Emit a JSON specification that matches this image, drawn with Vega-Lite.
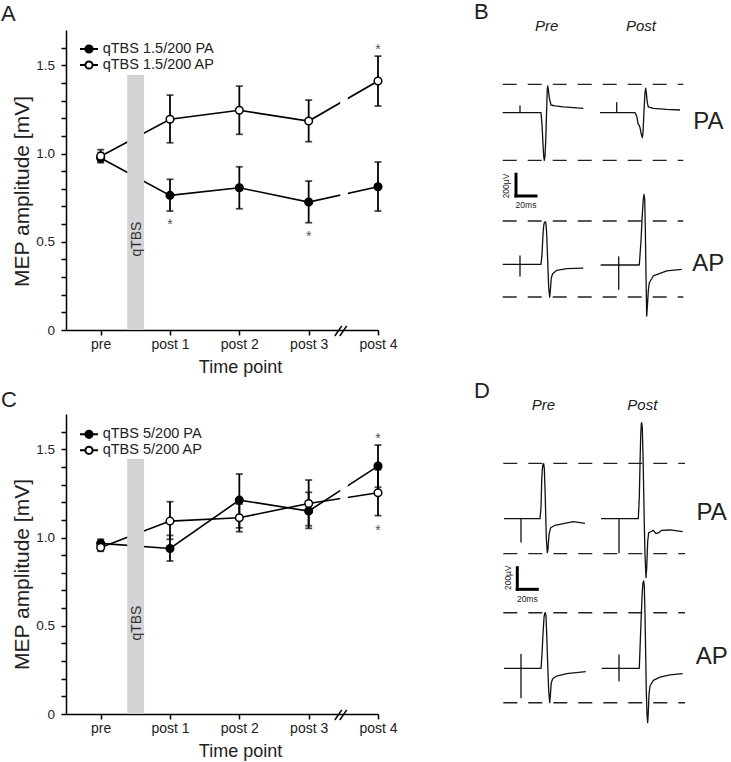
{
  "$schema": "https://vega.github.io/schema/vega-lite/v6.json",
  "background": "white",
  "padding": {"left": 1, "top": 1, "right": 0, "bottom": 0},
  "columns": 2,
  "spacing": {"row": 84, "column": 62},
  "bounds": "flush",
  "resolve": {"scale": {"fill": "independent"}, "legend": {"fill": "independent"}},
  "config": {
    "font": "Liberation Sans",
    "view": {"stroke": null},
    "axis": {"domainColor": "black", "domainWidth": 1.5, "tickColor": "black", "tickWidth": 1.5, "labelColor": "#222", "titleColor": "#222", "grid": false, "titleFontWeight": "normal", "labelFlush": false, "labelOverlap": false},
    "title": {"fontSize": 22, "fontWeight": "normal", "color": "#222", "anchor": "start", "frame": "group", "baseline": "alphabetic"}
  },
  "datasets": {
    "mep": [
      {"panel": "A", "series": "qTBS 1.5/200 PA", "tp": 0, "mean": 0.975, "lo": 0.948, "hi": 1.005},
      {"panel": "A", "series": "qTBS 1.5/200 PA", "tp": 1, "mean": 0.763, "lo": 0.674, "hi": 0.854},
      {"panel": "A", "series": "qTBS 1.5/200 PA", "tp": 2, "mean": 0.806, "lo": 0.687, "hi": 0.925},
      {"panel": "A", "series": "qTBS 1.5/200 PA", "tp": 3, "mean": 0.725, "lo": 0.608, "hi": 0.844},
      {"panel": "A", "series": "qTBS 1.5/200 PA", "tp": 4, "mean": 0.812, "lo": 0.674, "hi": 0.952},
      {"panel": "A", "series": "qTBS 1.5/200 AP", "tp": 0, "mean": 0.985, "lo": 0.955, "hi": 1.022},
      {"panel": "A", "series": "qTBS 1.5/200 AP", "tp": 1, "mean": 1.194, "lo": 1.061, "hi": 1.331},
      {"panel": "A", "series": "qTBS 1.5/200 AP", "tp": 2, "mean": 1.245, "lo": 1.109, "hi": 1.382},
      {"panel": "A", "series": "qTBS 1.5/200 AP", "tp": 3, "mean": 1.184, "lo": 1.067, "hi": 1.303},
      {"panel": "A", "series": "qTBS 1.5/200 AP", "tp": 4, "mean": 1.411, "lo": 1.269, "hi": 1.552},
      {"panel": "C", "series": "qTBS 5/200 PA", "tp": 0, "mean": 0.967, "lo": 0.945, "hi": 0.99},
      {"panel": "C", "series": "qTBS 5/200 PA", "tp": 1, "mean": 0.938, "lo": 0.867, "hi": 1.012},
      {"panel": "C", "series": "qTBS 5/200 PA", "tp": 2, "mean": 1.212, "lo": 1.055, "hi": 1.36},
      {"panel": "C", "series": "qTBS 5/200 PA", "tp": 3, "mean": 1.15, "lo": 1.052, "hi": 1.256},
      {"panel": "C", "series": "qTBS 5/200 PA", "tp": 4, "mean": 1.405, "lo": 1.285, "hi": 1.524},
      {"panel": "C", "series": "qTBS 5/200 AP", "tp": 0, "mean": 0.944, "lo": 0.922, "hi": 0.968},
      {"panel": "C", "series": "qTBS 5/200 AP", "tp": 1, "mean": 1.093, "lo": 0.99, "hi": 1.203},
      {"panel": "C", "series": "qTBS 5/200 AP", "tp": 2, "mean": 1.112, "lo": 1.033, "hi": 1.19},
      {"panel": "C", "series": "qTBS 5/200 AP", "tp": 3, "mean": 1.193, "lo": 1.067, "hi": 1.326},
      {"panel": "C", "series": "qTBS 5/200 AP", "tp": 4, "mean": 1.254, "lo": 1.124, "hi": 1.384}
    ],
    "stars": [
      {"panel": "A", "tp": 1, "level": 0.618},
      {"panel": "A", "tp": 3, "level": 0.551},
      {"panel": "A", "tp": 4, "level": 1.609},
      {"panel": "C", "tp": 4, "level": 1.581},
      {"panel": "C", "tp": 4, "level": 1.061}
    ],
    "stim": [{"label": "qTBS", "start": 0.382, "end": 0.626, "base": 0, "top": 1.445, "mid": 0.53, "labelAt": 0.515}],
    "gap": [{"from": 3.456, "to": 3.564, "bottom": 0.06, "top": 1.69}],
    "breaks": [
      {"x0": 3.377, "x1": 3.477, "y0": -0.034, "y1": 0.023},
      {"x0": 3.449, "x1": 3.549, "y0": -0.034, "y1": 0.023}
    ],
    "traces": [
      {"panel": "B", "trace": "pre-PA", "i": 0, "t": 62.7, "v": 2000},
      {"panel": "B", "trace": "pre-PA", "i": 1, "t": 80, "v": 2000},
      {"panel": "B", "trace": "pre-PA", "i": 2, "t": 80, "v": 2061},
      {"panel": "B", "trace": "pre-PA", "i": 3, "t": 80, "v": 2000},
      {"panel": "B", "trace": "pre-PA", "i": 4, "t": 101, "v": 2000},
      {"panel": "B", "trace": "pre-PA", "i": 5, "t": 102, "v": 1892},
      {"panel": "B", "trace": "pre-PA", "i": 6, "t": 103, "v": 1708},
      {"panel": "B", "trace": "pre-PA", "i": 7, "t": 103.7, "v": 1601},
      {"panel": "B", "trace": "pre-PA", "i": 8, "t": 104.3, "v": 1561},
      {"panel": "B", "trace": "pre-PA", "i": 9, "t": 105, "v": 1601},
      {"panel": "B", "trace": "pre-PA", "i": 10, "t": 105.7, "v": 1739},
      {"panel": "B", "trace": "pre-PA", "i": 11, "t": 106.7, "v": 2046},
      {"panel": "B", "trace": "pre-PA", "i": 12, "t": 107.3, "v": 2214},
      {"panel": "B", "trace": "pre-PA", "i": 13, "t": 107.7, "v": 2245},
      {"panel": "B", "trace": "pre-PA", "i": 14, "t": 108.3, "v": 2214},
      {"panel": "B", "trace": "pre-PA", "i": 15, "t": 109.3, "v": 2138},
      {"panel": "B", "trace": "pre-PA", "i": 16, "t": 111, "v": 2070},
      {"panel": "B", "trace": "pre-PA", "i": 17, "t": 115, "v": 2061},
      {"panel": "B", "trace": "pre-PA", "i": 18, "t": 123.3, "v": 2052},
      {"panel": "B", "trace": "pre-PA", "i": 19, "t": 133.3, "v": 2046},
      {"panel": "B", "trace": "pre-PA", "i": 20, "t": 143.3, "v": 2039},
      {"panel": "B", "trace": "post-PA", "i": 0, "t": 160, "v": 2000},
      {"panel": "B", "trace": "post-PA", "i": 1, "t": 176.7, "v": 2000},
      {"panel": "B", "trace": "post-PA", "i": 2, "t": 176.7, "v": 2092},
      {"panel": "B", "trace": "post-PA", "i": 3, "t": 176.7, "v": 2000},
      {"panel": "B", "trace": "post-PA", "i": 4, "t": 195, "v": 2000},
      {"panel": "B", "trace": "post-PA", "i": 5, "t": 196.7, "v": 1969},
      {"panel": "B", "trace": "post-PA", "i": 6, "t": 198, "v": 1898},
      {"panel": "B", "trace": "post-PA", "i": 7, "t": 199, "v": 1886},
      {"panel": "B", "trace": "post-PA", "i": 8, "t": 200, "v": 1862},
      {"panel": "B", "trace": "post-PA", "i": 9, "t": 201.3, "v": 1800},
      {"panel": "B", "trace": "post-PA", "i": 10, "t": 202.3, "v": 1770},
      {"panel": "B", "trace": "post-PA", "i": 11, "t": 203, "v": 1816},
      {"panel": "B", "trace": "post-PA", "i": 12, "t": 204, "v": 2015},
      {"panel": "B", "trace": "post-PA", "i": 13, "t": 205, "v": 2184},
      {"panel": "B", "trace": "post-PA", "i": 14, "t": 205.7, "v": 2224},
      {"panel": "B", "trace": "post-PA", "i": 15, "t": 206.3, "v": 2184},
      {"panel": "B", "trace": "post-PA", "i": 16, "t": 207.3, "v": 2092},
      {"panel": "B", "trace": "post-PA", "i": 17, "t": 208.3, "v": 2052},
      {"panel": "B", "trace": "post-PA", "i": 18, "t": 213.3, "v": 2039},
      {"panel": "B", "trace": "post-PA", "i": 19, "t": 226.7, "v": 2030},
      {"panel": "B", "trace": "post-PA", "i": 20, "t": 240, "v": 2024},
      {"panel": "B", "trace": "pre-AP", "i": 0, "t": 62.7, "v": 604},
      {"panel": "B", "trace": "pre-AP", "i": 1, "t": 80, "v": 604},
      {"panel": "B", "trace": "pre-AP", "i": 2, "t": 80, "v": 681},
      {"panel": "B", "trace": "pre-AP", "i": 3, "t": 80, "v": 497},
      {"panel": "B", "trace": "pre-AP", "i": 4, "t": 80, "v": 604},
      {"panel": "B", "trace": "pre-AP", "i": 5, "t": 101, "v": 604},
      {"panel": "B", "trace": "pre-AP", "i": 6, "t": 102, "v": 696},
      {"panel": "B", "trace": "pre-AP", "i": 7, "t": 103, "v": 880},
      {"panel": "B", "trace": "pre-AP", "i": 8, "t": 103.7, "v": 957},
      {"panel": "B", "trace": "pre-AP", "i": 9, "t": 104.3, "v": 987},
      {"panel": "B", "trace": "pre-AP", "i": 10, "t": 105.3, "v": 997},
      {"panel": "B", "trace": "pre-AP", "i": 11, "t": 106, "v": 978},
      {"panel": "B", "trace": "pre-AP", "i": 12, "t": 106.7, "v": 880},
      {"panel": "B", "trace": "pre-AP", "i": 13, "t": 107.7, "v": 635},
      {"panel": "B", "trace": "pre-AP", "i": 14, "t": 108.7, "v": 389},
      {"panel": "B", "trace": "pre-AP", "i": 15, "t": 109.7, "v": 303},
      {"panel": "B", "trace": "pre-AP", "i": 16, "t": 110.3, "v": 359},
      {"panel": "B", "trace": "pre-AP", "i": 17, "t": 111.3, "v": 481},
      {"panel": "B", "trace": "pre-AP", "i": 18, "t": 112.7, "v": 518},
      {"panel": "B", "trace": "pre-AP", "i": 19, "t": 116.7, "v": 549},
      {"panel": "B", "trace": "pre-AP", "i": 20, "t": 126.7, "v": 564},
      {"panel": "B", "trace": "pre-AP", "i": 21, "t": 143.3, "v": 570},
      {"panel": "B", "trace": "post-AP", "i": 0, "t": 160.7, "v": 598},
      {"panel": "B", "trace": "post-AP", "i": 1, "t": 178.7, "v": 598},
      {"panel": "B", "trace": "post-AP", "i": 2, "t": 178.7, "v": 672},
      {"panel": "B", "trace": "post-AP", "i": 3, "t": 178.7, "v": 374},
      {"panel": "B", "trace": "post-AP", "i": 4, "t": 178.7, "v": 598},
      {"panel": "B", "trace": "post-AP", "i": 5, "t": 199.3, "v": 598},
      {"panel": "B", "trace": "post-AP", "i": 6, "t": 201, "v": 819},
      {"panel": "B", "trace": "post-AP", "i": 7, "t": 202.3, "v": 1064},
      {"panel": "B", "trace": "post-AP", "i": 8, "t": 203.3, "v": 1202},
      {"panel": "B", "trace": "post-AP", "i": 9, "t": 204, "v": 1248},
      {"panel": "B", "trace": "post-AP", "i": 10, "t": 204.7, "v": 1202},
      {"panel": "B", "trace": "post-AP", "i": 11, "t": 205.3, "v": 941},
      {"panel": "B", "trace": "post-AP", "i": 12, "t": 206, "v": 512},
      {"panel": "B", "trace": "post-AP", "i": 13, "t": 206.7, "v": 129},
      {"panel": "B", "trace": "post-AP", "i": 14, "t": 207.3, "v": 205},
      {"panel": "B", "trace": "post-AP", "i": 15, "t": 208.3, "v": 359},
      {"panel": "B", "trace": "post-AP", "i": 16, "t": 209.3, "v": 435},
      {"panel": "B", "trace": "post-AP", "i": 17, "t": 213.3, "v": 497},
      {"panel": "B", "trace": "post-AP", "i": 18, "t": 226.7, "v": 543},
      {"panel": "B", "trace": "post-AP", "i": 19, "t": 241.7, "v": 558},
      {"panel": "D", "trace": "pre-PA", "i": 0, "t": 64, "v": 1797},
      {"panel": "D", "trace": "pre-PA", "i": 1, "t": 81, "v": 1797},
      {"panel": "D", "trace": "pre-PA", "i": 2, "t": 81, "v": 1582},
      {"panel": "D", "trace": "pre-PA", "i": 3, "t": 81, "v": 1797},
      {"panel": "D", "trace": "pre-PA", "i": 4, "t": 100, "v": 1797},
      {"panel": "D", "trace": "pre-PA", "i": 5, "t": 101, "v": 1898},
      {"panel": "D", "trace": "pre-PA", "i": 6, "t": 101.7, "v": 2144},
      {"panel": "D", "trace": "pre-PA", "i": 7, "t": 102.3, "v": 2251},
      {"panel": "D", "trace": "pre-PA", "i": 8, "t": 103, "v": 2297},
      {"panel": "D", "trace": "pre-PA", "i": 9, "t": 103.7, "v": 2303},
      {"panel": "D", "trace": "pre-PA", "i": 10, "t": 104.3, "v": 2260},
      {"panel": "D", "trace": "pre-PA", "i": 11, "t": 105, "v": 2082},
      {"panel": "D", "trace": "pre-PA", "i": 12, "t": 105.7, "v": 1837},
      {"panel": "D", "trace": "pre-PA", "i": 13, "t": 106.3, "v": 1622},
      {"panel": "D", "trace": "pre-PA", "i": 14, "t": 107.3, "v": 1484},
      {"panel": "D", "trace": "pre-PA", "i": 15, "t": 108, "v": 1515},
      {"panel": "D", "trace": "pre-PA", "i": 16, "t": 109, "v": 1653},
      {"panel": "D", "trace": "pre-PA", "i": 17, "t": 110.7, "v": 1714},
      {"panel": "D", "trace": "pre-PA", "i": 18, "t": 115, "v": 1736},
      {"panel": "D", "trace": "pre-PA", "i": 19, "t": 123.3, "v": 1751},
      {"panel": "D", "trace": "pre-PA", "i": 20, "t": 133.3, "v": 1769},
      {"panel": "D", "trace": "pre-PA", "i": 21, "t": 145, "v": 1754},
      {"panel": "D", "trace": "post-PA", "i": 0, "t": 161, "v": 1797},
      {"panel": "D", "trace": "post-PA", "i": 1, "t": 179, "v": 1797},
      {"panel": "D", "trace": "post-PA", "i": 2, "t": 179, "v": 1484},
      {"panel": "D", "trace": "post-PA", "i": 3, "t": 179, "v": 1797},
      {"panel": "D", "trace": "post-PA", "i": 4, "t": 198.3, "v": 1797},
      {"panel": "D", "trace": "post-PA", "i": 5, "t": 199.3, "v": 1990},
      {"panel": "D", "trace": "post-PA", "i": 6, "t": 200, "v": 2297},
      {"panel": "D", "trace": "post-PA", "i": 7, "t": 200.7, "v": 2558},
      {"panel": "D", "trace": "post-PA", "i": 8, "t": 201.3, "v": 2671},
      {"panel": "D", "trace": "post-PA", "i": 9, "t": 201.7, "v": 2680},
      {"panel": "D", "trace": "post-PA", "i": 10, "t": 202.3, "v": 2634},
      {"panel": "D", "trace": "post-PA", "i": 11, "t": 203, "v": 2389},
      {"panel": "D", "trace": "post-PA", "i": 12, "t": 203.7, "v": 2052},
      {"panel": "D", "trace": "post-PA", "i": 13, "t": 204.3, "v": 1745},
      {"panel": "D", "trace": "post-PA", "i": 14, "t": 205, "v": 1469},
      {"panel": "D", "trace": "post-PA", "i": 15, "t": 206, "v": 1254},
      {"panel": "D", "trace": "post-PA", "i": 16, "t": 206.7, "v": 1346},
      {"panel": "D", "trace": "post-PA", "i": 17, "t": 207.7, "v": 1592},
      {"panel": "D", "trace": "post-PA", "i": 18, "t": 208.7, "v": 1668},
      {"panel": "D", "trace": "post-PA", "i": 19, "t": 210.7, "v": 1677},
      {"panel": "D", "trace": "post-PA", "i": 20, "t": 213.3, "v": 1690},
      {"panel": "D", "trace": "post-PA", "i": 21, "t": 216, "v": 1659},
      {"panel": "D", "trace": "post-PA", "i": 22, "t": 218.7, "v": 1668},
      {"panel": "D", "trace": "post-PA", "i": 23, "t": 221.7, "v": 1690},
      {"panel": "D", "trace": "post-PA", "i": 24, "t": 230, "v": 1693},
      {"panel": "D", "trace": "post-PA", "i": 25, "t": 242.7, "v": 1677},
      {"panel": "D", "trace": "pre-AP", "i": 0, "t": 64, "v": 420},
      {"panel": "D", "trace": "pre-AP", "i": 1, "t": 81, "v": 420},
      {"panel": "D", "trace": "pre-AP", "i": 2, "t": 81, "v": 549},
      {"panel": "D", "trace": "pre-AP", "i": 3, "t": 81, "v": 150},
      {"panel": "D", "trace": "pre-AP", "i": 4, "t": 81, "v": 420},
      {"panel": "D", "trace": "pre-AP", "i": 5, "t": 101, "v": 420},
      {"panel": "D", "trace": "pre-AP", "i": 6, "t": 102, "v": 549},
      {"panel": "D", "trace": "pre-AP", "i": 7, "t": 103, "v": 733},
      {"panel": "D", "trace": "pre-AP", "i": 8, "t": 104, "v": 886},
      {"panel": "D", "trace": "pre-AP", "i": 9, "t": 104.7, "v": 926},
      {"panel": "D", "trace": "pre-AP", "i": 10, "t": 105.3, "v": 932},
      {"panel": "D", "trace": "pre-AP", "i": 11, "t": 106, "v": 901},
      {"panel": "D", "trace": "pre-AP", "i": 12, "t": 106.7, "v": 733},
      {"panel": "D", "trace": "pre-AP", "i": 13, "t": 107.7, "v": 457},
      {"panel": "D", "trace": "pre-AP", "i": 14, "t": 108.7, "v": 211},
      {"panel": "D", "trace": "pre-AP", "i": 15, "t": 109.7, "v": 104},
      {"panel": "D", "trace": "pre-AP", "i": 16, "t": 110.3, "v": 165},
      {"panel": "D", "trace": "pre-AP", "i": 17, "t": 111.3, "v": 288},
      {"panel": "D", "trace": "pre-AP", "i": 18, "t": 112.7, "v": 325},
      {"panel": "D", "trace": "pre-AP", "i": 19, "t": 116.7, "v": 349},
      {"panel": "D", "trace": "pre-AP", "i": 20, "t": 126.7, "v": 371},
      {"panel": "D", "trace": "pre-AP", "i": 21, "t": 145.7, "v": 389},
      {"panel": "D", "trace": "post-AP", "i": 0, "t": 161.7, "v": 420},
      {"panel": "D", "trace": "post-AP", "i": 1, "t": 179, "v": 420},
      {"panel": "D", "trace": "post-AP", "i": 2, "t": 179, "v": 543},
      {"panel": "D", "trace": "post-AP", "i": 3, "t": 179, "v": 304},
      {"panel": "D", "trace": "post-AP", "i": 4, "t": 179, "v": 420},
      {"panel": "D", "trace": "post-AP", "i": 5, "t": 199.3, "v": 420},
      {"panel": "D", "trace": "post-AP", "i": 6, "t": 200.3, "v": 672},
      {"panel": "D", "trace": "post-AP", "i": 7, "t": 201.3, "v": 917},
      {"panel": "D", "trace": "post-AP", "i": 8, "t": 202.3, "v": 1132},
      {"panel": "D", "trace": "post-AP", "i": 9, "t": 203, "v": 1208},
      {"panel": "D", "trace": "post-AP", "i": 10, "t": 203.7, "v": 1224},
      {"panel": "D", "trace": "post-AP", "i": 11, "t": 204.3, "v": 1178},
      {"panel": "D", "trace": "post-AP", "i": 12, "t": 205, "v": 917},
      {"panel": "D", "trace": "post-AP", "i": 13, "t": 205.7, "v": 549},
      {"panel": "D", "trace": "post-AP", "i": 14, "t": 206.3, "v": 211},
      {"panel": "D", "trace": "post-AP", "i": 15, "t": 207, "v": -3},
      {"panel": "D", "trace": "post-AP", "i": 16, "t": 207.7, "v": -80},
      {"panel": "D", "trace": "post-AP", "i": 17, "t": 208.3, "v": 12},
      {"panel": "D", "trace": "post-AP", "i": 18, "t": 209, "v": 181},
      {"panel": "D", "trace": "post-AP", "i": 19, "t": 210, "v": 258},
      {"panel": "D", "trace": "post-AP", "i": 20, "t": 213.3, "v": 310},
      {"panel": "D", "trace": "post-AP", "i": 21, "t": 220, "v": 340},
      {"panel": "D", "trace": "post-AP", "i": 22, "t": 230, "v": 359},
      {"panel": "D", "trace": "post-AP", "i": 23, "t": 242.7, "v": 371}
    ],
    "dashes": [
      {"panel": "B", "t0": 62.7, "t1": 243.3, "v": 2260},
      {"panel": "B", "t0": 62.7, "t1": 243.3, "v": 1561},
      {"panel": "B", "t0": 62.7, "t1": 243.3, "v": 1003},
      {"panel": "B", "t0": 62.7, "t1": 243.3, "v": 303},
      {"panel": "D", "t0": 63.3, "t1": 245, "v": 2306},
      {"panel": "D", "t0": 63.3, "t1": 245, "v": 1475},
      {"panel": "D", "t0": 63.3, "t1": 245, "v": 932},
      {"panel": "D", "t0": 63.3, "t1": 245, "v": 104}
    ],
    "scalebars": [
      {"panel": "B", "t0": 76, "t1": 76, "v0": 1233, "v1": 1433},
      {"panel": "B", "t0": 76, "t1": 96, "v0": 1233, "v1": 1233},
      {"panel": "D", "t0": 77.3, "t1": 77.3, "v0": 1147, "v1": 1346},
      {"panel": "D", "t0": 77.3, "t1": 97.3, "v0": 1147, "v1": 1147}
    ],
    "labels": [
      {"panel": "B", "kind": "column", "label": "Pre", "t": 106.7, "v": 2797},
      {"panel": "B", "kind": "column", "label": "Post", "t": 201, "v": 2797},
      {"panel": "B", "kind": "row", "label": "PA", "t": 268.3, "v": 1917},
      {"panel": "B", "kind": "row", "label": "AP", "t": 268.3, "v": 604},
      {"panel": "B", "kind": "unitV", "label": "200µV", "t": 65.7, "v": 1325},
      {"panel": "B", "kind": "unitT", "label": "20ms", "t": 86, "v": 1150},
      {"panel": "D", "kind": "column", "label": "Pre", "t": 103.3, "v": 2843},
      {"panel": "D", "kind": "column", "label": "Post", "t": 202.3, "v": 2843},
      {"panel": "D", "kind": "row", "label": "PA", "t": 271.7, "v": 1852},
      {"panel": "D", "kind": "row", "label": "AP", "t": 271.7, "v": 524},
      {"panel": "D", "kind": "unitV", "label": "200µV", "t": 68.3, "v": 1254},
      {"panel": "D", "kind": "unitT", "label": "20ms", "t": 87.3, "v": 1055}
    ]
  },
  "concat": [
    {
      "width": 312, "height": 300,
      "title": {"text": "A", "dx": -65, "offset": 0, "dy": -4},
      "layer": [
        {"data": {"name": "mep"}, "transform": [{"filter": "datum.panel == 'A'"}],
         "mark": {"type": "line", "color": "black", "strokeWidth": 1.6},
         "encoding": {
           "x": {"field": "tp", "type": "quantitative", "scale": {"domain": [-0.5, 4], "nice": false, "zero": false},
                 "axis": {"values": [0, 1, 2, 3, 4], "labelExpr": "['pre','post 1','post 2','post 3','post 4'][datum.value]", "labelFontSize": 14, "tickSize": 5, "labelPadding": 2.5, "title": "Time point", "titleFontSize": 18, "titleX": 174, "titleY": 42.7, "titleBaseline": "alphabetic", "titleAlign": "center"}},
           "y": {"field": "mean", "type": "quantitative", "scale": {"domain": [0, 1.7], "nice": false, "zero": false},
                 "axis": {"values": [0, 0.1, 0.2, 0.3, 0.4, 0.5, 0.6, 0.7, 0.8, 0.9, 1, 1.1, 1.2, 1.3, 1.4, 1.5, 1.6], "labelExpr": "datum.value == 0 ? '0' : (abs(datum.value*2 - round(datum.value*2)) < 0.01 ? format(datum.value, '.1f') : '')", "labelFontSize": 13.5, "labelPadding": 6.5, "tickSize": 5, "title": "MEP amplitude [mV]", "titleFontSize": 21, "titleX": -34, "titleY": 161, "titleBaseline": "bottom", "titleAlign": "center", "titleAngle": 270}},
           "detail": {"field": "series"}
         }},
        {"data": {"name": "gap"},
         "mark": {"type": "rect", "fill": "white"},
         "encoding": {
           "x": {"field": "from", "type": "quantitative", "scale": {"domain": [-0.5, 4], "nice": false, "zero": false},
                 "axis": {"values": [0, 1, 2, 3, 4], "labelExpr": "['pre','post 1','post 2','post 3','post 4'][datum.value]", "labelFontSize": 14, "tickSize": 5, "labelPadding": 2.5, "title": "Time point", "titleFontSize": 18, "titleX": 174, "titleY": 42.7, "titleBaseline": "alphabetic", "titleAlign": "center"}},
           "x2": {"field": "to"},
           "y": {"field": "bottom", "type": "quantitative", "scale": {"domain": [0, 1.7], "nice": false, "zero": false},
                 "axis": {"values": [0, 0.1, 0.2, 0.3, 0.4, 0.5, 0.6, 0.7, 0.8, 0.9, 1, 1.1, 1.2, 1.3, 1.4, 1.5, 1.6], "labelExpr": "datum.value == 0 ? '0' : (abs(datum.value*2 - round(datum.value*2)) < 0.01 ? format(datum.value, '.1f') : '')", "labelFontSize": 13.5, "labelPadding": 6.5, "tickSize": 5, "title": "MEP amplitude [mV]", "titleFontSize": 21, "titleX": -34, "titleY": 161, "titleBaseline": "bottom", "titleAlign": "center", "titleAngle": 270}},
           "y2": {"field": "top"}
         }},
        {"data": {"name": "stim"},
         "mark": {"type": "rect", "fill": "#d4d4d6"},
         "encoding": {
           "x": {"field": "start", "type": "quantitative", "scale": {"domain": [-0.5, 4], "nice": false, "zero": false},
                 "axis": {"values": [0, 1, 2, 3, 4], "labelExpr": "['pre','post 1','post 2','post 3','post 4'][datum.value]", "labelFontSize": 14, "tickSize": 5, "labelPadding": 2.5, "title": "Time point", "titleFontSize": 18, "titleX": 174, "titleY": 42.7, "titleBaseline": "alphabetic", "titleAlign": "center"}},
           "x2": {"field": "end"},
           "y": {"field": "base", "type": "quantitative", "scale": {"domain": [0, 1.7], "nice": false, "zero": false},
                 "axis": {"values": [0, 0.1, 0.2, 0.3, 0.4, 0.5, 0.6, 0.7, 0.8, 0.9, 1, 1.1, 1.2, 1.3, 1.4, 1.5, 1.6], "labelExpr": "datum.value == 0 ? '0' : (abs(datum.value*2 - round(datum.value*2)) < 0.01 ? format(datum.value, '.1f') : '')", "labelFontSize": 13.5, "labelPadding": 6.5, "tickSize": 5, "title": "MEP amplitude [mV]", "titleFontSize": 21, "titleX": -34, "titleY": 161, "titleBaseline": "bottom", "titleAlign": "center", "titleAngle": 270}},
           "y2": {"field": "top"}
         }},
        {"data": {"name": "stim"},
         "mark": {"type": "text", "angle": 270, "fontSize": 14, "color": "#333", "align": "center", "baseline": "middle"},
         "encoding": {
           "x": {"field": "mid", "type": "quantitative", "scale": {"domain": [-0.5, 4], "nice": false, "zero": false},
                 "axis": {"values": [0, 1, 2, 3, 4], "labelExpr": "['pre','post 1','post 2','post 3','post 4'][datum.value]", "labelFontSize": 14, "tickSize": 5, "labelPadding": 2.5, "title": "Time point", "titleFontSize": 18, "titleX": 174, "titleY": 42.7, "titleBaseline": "alphabetic", "titleAlign": "center"}},
           "y": {"field": "labelAt", "type": "quantitative", "scale": {"domain": [0, 1.7], "nice": false, "zero": false},
                 "axis": {"values": [0, 0.1, 0.2, 0.3, 0.4, 0.5, 0.6, 0.7, 0.8, 0.9, 1, 1.1, 1.2, 1.3, 1.4, 1.5, 1.6], "labelExpr": "datum.value == 0 ? '0' : (abs(datum.value*2 - round(datum.value*2)) < 0.01 ? format(datum.value, '.1f') : '')", "labelFontSize": 13.5, "labelPadding": 6.5, "tickSize": 5, "title": "MEP amplitude [mV]", "titleFontSize": 21, "titleX": -34, "titleY": 161, "titleBaseline": "bottom", "titleAlign": "center", "titleAngle": 270}},
           "text": {"field": "label"}
         }},
        {"data": {"name": "mep"}, "transform": [{"filter": "datum.panel == 'A'"}],
         "mark": {"type": "rule", "color": "black", "strokeWidth": 1.8},
         "encoding": {
           "x": {"field": "tp", "type": "quantitative", "scale": {"domain": [-0.5, 4], "nice": false, "zero": false},
                 "axis": {"values": [0, 1, 2, 3, 4], "labelExpr": "['pre','post 1','post 2','post 3','post 4'][datum.value]", "labelFontSize": 14, "tickSize": 5, "labelPadding": 2.5, "title": "Time point", "titleFontSize": 18, "titleX": 174, "titleY": 42.7, "titleBaseline": "alphabetic", "titleAlign": "center"}},
           "y": {"field": "lo", "type": "quantitative", "scale": {"domain": [0, 1.7], "nice": false, "zero": false},
                 "axis": {"values": [0, 0.1, 0.2, 0.3, 0.4, 0.5, 0.6, 0.7, 0.8, 0.9, 1, 1.1, 1.2, 1.3, 1.4, 1.5, 1.6], "labelExpr": "datum.value == 0 ? '0' : (abs(datum.value*2 - round(datum.value*2)) < 0.01 ? format(datum.value, '.1f') : '')", "labelFontSize": 13.5, "labelPadding": 6.5, "tickSize": 5, "title": "MEP amplitude [mV]", "titleFontSize": 21, "titleX": -34, "titleY": 161, "titleBaseline": "bottom", "titleAlign": "center", "titleAngle": 270}},
           "y2": {"field": "hi"}
         }},
        {"data": {"name": "mep"}, "transform": [{"filter": "datum.panel == 'A'"}],
         "mark": {"type": "tick", "orient": "horizontal", "size": 7, "thickness": 1.8, "color": "black"},
         "encoding": {
           "x": {"field": "tp", "type": "quantitative", "scale": {"domain": [-0.5, 4], "nice": false, "zero": false},
                 "axis": {"values": [0, 1, 2, 3, 4], "labelExpr": "['pre','post 1','post 2','post 3','post 4'][datum.value]", "labelFontSize": 14, "tickSize": 5, "labelPadding": 2.5, "title": "Time point", "titleFontSize": 18, "titleX": 174, "titleY": 42.7, "titleBaseline": "alphabetic", "titleAlign": "center"}},
           "y": {"field": "lo", "type": "quantitative", "scale": {"domain": [0, 1.7], "nice": false, "zero": false},
                 "axis": {"values": [0, 0.1, 0.2, 0.3, 0.4, 0.5, 0.6, 0.7, 0.8, 0.9, 1, 1.1, 1.2, 1.3, 1.4, 1.5, 1.6], "labelExpr": "datum.value == 0 ? '0' : (abs(datum.value*2 - round(datum.value*2)) < 0.01 ? format(datum.value, '.1f') : '')", "labelFontSize": 13.5, "labelPadding": 6.5, "tickSize": 5, "title": "MEP amplitude [mV]", "titleFontSize": 21, "titleX": -34, "titleY": 161, "titleBaseline": "bottom", "titleAlign": "center", "titleAngle": 270}}
         }},
        {"data": {"name": "mep"}, "transform": [{"filter": "datum.panel == 'A'"}],
         "mark": {"type": "tick", "orient": "horizontal", "size": 7, "thickness": 1.8, "color": "black"},
         "encoding": {
           "x": {"field": "tp", "type": "quantitative", "scale": {"domain": [-0.5, 4], "nice": false, "zero": false},
                 "axis": {"values": [0, 1, 2, 3, 4], "labelExpr": "['pre','post 1','post 2','post 3','post 4'][datum.value]", "labelFontSize": 14, "tickSize": 5, "labelPadding": 2.5, "title": "Time point", "titleFontSize": 18, "titleX": 174, "titleY": 42.7, "titleBaseline": "alphabetic", "titleAlign": "center"}},
           "y": {"field": "hi", "type": "quantitative", "scale": {"domain": [0, 1.7], "nice": false, "zero": false},
                 "axis": {"values": [0, 0.1, 0.2, 0.3, 0.4, 0.5, 0.6, 0.7, 0.8, 0.9, 1, 1.1, 1.2, 1.3, 1.4, 1.5, 1.6], "labelExpr": "datum.value == 0 ? '0' : (abs(datum.value*2 - round(datum.value*2)) < 0.01 ? format(datum.value, '.1f') : '')", "labelFontSize": 13.5, "labelPadding": 6.5, "tickSize": 5, "title": "MEP amplitude [mV]", "titleFontSize": 21, "titleX": -34, "titleY": 161, "titleBaseline": "bottom", "titleAlign": "center", "titleAngle": 270}}
         }},
        {"data": {"name": "mep"}, "transform": [{"filter": "datum.panel == 'A'"}],
         "mark": {"type": "point", "shape": "circle", "filled": true, "size": 58, "stroke": "black", "strokeWidth": 1.5, "opacity": 1},
         "encoding": {
           "x": {"field": "tp", "type": "quantitative", "scale": {"domain": [-0.5, 4], "nice": false, "zero": false},
                 "axis": {"values": [0, 1, 2, 3, 4], "labelExpr": "['pre','post 1','post 2','post 3','post 4'][datum.value]", "labelFontSize": 14, "tickSize": 5, "labelPadding": 2.5, "title": "Time point", "titleFontSize": 18, "titleX": 174, "titleY": 42.7, "titleBaseline": "alphabetic", "titleAlign": "center"}},
           "y": {"field": "mean", "type": "quantitative", "scale": {"domain": [0, 1.7], "nice": false, "zero": false},
                 "axis": {"values": [0, 0.1, 0.2, 0.3, 0.4, 0.5, 0.6, 0.7, 0.8, 0.9, 1, 1.1, 1.2, 1.3, 1.4, 1.5, 1.6], "labelExpr": "datum.value == 0 ? '0' : (abs(datum.value*2 - round(datum.value*2)) < 0.01 ? format(datum.value, '.1f') : '')", "labelFontSize": 13.5, "labelPadding": 6.5, "tickSize": 5, "title": "MEP amplitude [mV]", "titleFontSize": 21, "titleX": -34, "titleY": 161, "titleBaseline": "bottom", "titleAlign": "center", "titleAngle": 270}},
           "fill": {"field": "series", "type": "nominal", "scale": {"domain": ["qTBS 1.5/200 PA", "qTBS 1.5/200 AP"], "range": ["black", "white"]},
                    "legend": {"title": null, "orient": "none", "legendX": 15, "legendY": 11, "symbolType": "M -1.286 0 H -0.514 M 0.514 0 H 1.286 M 0.514 0 A 0.514 0.514 0 1 1 -0.514 0 A 0.514 0.514 0 1 1 0.514 0 Z", "symbolSize": 196, "symbolStrokeColor": "black", "symbolStrokeWidth": 2, "labelFontSize": 14.5, "labelColor": "#222", "labelOffset": 5.7, "rowPadding": 0, "padding": 0}}
         }},
        {"data": {"name": "stars"}, "transform": [{"filter": "datum.panel == 'A'"}],
         "mark": {"type": "text", "text": "*", "fontSize": 14, "color": "#555", "align": "center", "baseline": "alphabetic", "dy": 8},
         "encoding": {
           "x": {"field": "tp", "type": "quantitative", "scale": {"domain": [-0.5, 4], "nice": false, "zero": false},
                 "axis": {"values": [0, 1, 2, 3, 4], "labelExpr": "['pre','post 1','post 2','post 3','post 4'][datum.value]", "labelFontSize": 14, "tickSize": 5, "labelPadding": 2.5, "title": "Time point", "titleFontSize": 18, "titleX": 174, "titleY": 42.7, "titleBaseline": "alphabetic", "titleAlign": "center"}},
           "y": {"field": "level", "type": "quantitative", "scale": {"domain": [0, 1.7], "nice": false, "zero": false},
                 "axis": {"values": [0, 0.1, 0.2, 0.3, 0.4, 0.5, 0.6, 0.7, 0.8, 0.9, 1, 1.1, 1.2, 1.3, 1.4, 1.5, 1.6], "labelExpr": "datum.value == 0 ? '0' : (abs(datum.value*2 - round(datum.value*2)) < 0.01 ? format(datum.value, '.1f') : '')", "labelFontSize": 13.5, "labelPadding": 6.5, "tickSize": 5, "title": "MEP amplitude [mV]", "titleFontSize": 21, "titleX": -34, "titleY": 161, "titleBaseline": "bottom", "titleAlign": "center", "titleAngle": 270}}
         }},
        {"data": {"name": "breaks"},
         "mark": {"type": "rule", "color": "black", "strokeWidth": 1.5},
         "encoding": {
           "x": {"field": "x0", "type": "quantitative", "scale": {"domain": [-0.5, 4], "nice": false, "zero": false},
                 "axis": {"values": [0, 1, 2, 3, 4], "labelExpr": "['pre','post 1','post 2','post 3','post 4'][datum.value]", "labelFontSize": 14, "tickSize": 5, "labelPadding": 2.5, "title": "Time point", "titleFontSize": 18, "titleX": 174, "titleY": 42.7, "titleBaseline": "alphabetic", "titleAlign": "center"}},
           "x2": {"field": "x1"},
           "y": {"field": "y0", "type": "quantitative", "scale": {"domain": [0, 1.7], "nice": false, "zero": false},
                 "axis": {"values": [0, 0.1, 0.2, 0.3, 0.4, 0.5, 0.6, 0.7, 0.8, 0.9, 1, 1.1, 1.2, 1.3, 1.4, 1.5, 1.6], "labelExpr": "datum.value == 0 ? '0' : (abs(datum.value*2 - round(datum.value*2)) < 0.01 ? format(datum.value, '.1f') : '')", "labelFontSize": 13.5, "labelPadding": 6.5, "tickSize": 5, "title": "MEP amplitude [mV]", "titleFontSize": 21, "titleX": -34, "titleY": 161, "titleBaseline": "bottom", "titleAlign": "center", "titleAngle": 270}},
           "y2": {"field": "y1"}
         }}
      ]
    },
    {
      "width": 291, "height": 300,
      "title": {"text": "B", "dx": 34, "offset": 0, "dy": 5.4},
      "layer": [
        {"data": {"name": "dashes"}, "transform": [{"filter": "datum.panel == 'B'"}],
         "mark": {"type": "rule", "strokeDash": [14, 11], "strokeWidth": 1.4, "color": "#222"},
         "encoding": {
           "x": {"field": "t0", "type": "quantitative", "scale": {"domain": [0, 291], "nice": false, "zero": false}, "axis": null},
           "x2": {"field": "t1"},
           "y": {"field": "v", "type": "quantitative", "scale": {"domain": [0, 2760], "nice": false, "zero": false}, "axis": null}
         }},
        {"data": {"name": "traces"}, "transform": [{"filter": "datum.panel == 'B'"}],
         "mark": {"type": "line", "color": "#111", "strokeWidth": 1.3, "strokeJoin": "round"},
         "encoding": {
           "x": {"field": "t", "type": "quantitative", "scale": {"domain": [0, 291], "nice": false, "zero": false}, "axis": null},
           "y": {"field": "v", "type": "quantitative", "scale": {"domain": [0, 2760], "nice": false, "zero": false}, "axis": null},
           "detail": {"field": "trace"},
           "order": {"field": "i", "type": "quantitative"}
         }},
        {"data": {"name": "scalebars"}, "transform": [{"filter": "datum.panel == 'B'"}],
         "mark": {"type": "rule", "strokeWidth": 3, "color": "black", "strokeCap": "square"},
         "encoding": {
           "x": {"field": "t0", "type": "quantitative", "scale": {"domain": [0, 291], "nice": false, "zero": false}, "axis": null},
           "x2": {"field": "t1"},
           "y": {"field": "v0", "type": "quantitative", "scale": {"domain": [0, 2760], "nice": false, "zero": false}, "axis": null},
           "y2": {"field": "v1"}
         }},
        {"data": {"name": "labels"}, "transform": [{"filter": "datum.panel == 'B' && datum.kind == 'column'"}],
         "mark": {"type": "text", "fontStyle": "italic", "fontSize": 15, "color": "#222", "align": "center", "baseline": "middle"},
         "encoding": {
           "x": {"field": "t", "type": "quantitative", "scale": {"domain": [0, 291], "nice": false, "zero": false}, "axis": null},
           "y": {"field": "v", "type": "quantitative", "scale": {"domain": [0, 2760], "nice": false, "zero": false}, "axis": null},
           "text": {"field": "label"}
         }},
        {"data": {"name": "labels"}, "transform": [{"filter": "datum.panel == 'B' && datum.kind == 'row'"}],
         "mark": {"type": "text", "fontSize": 24, "color": "#222", "align": "center", "baseline": "middle"},
         "encoding": {
           "x": {"field": "t", "type": "quantitative", "scale": {"domain": [0, 291], "nice": false, "zero": false}, "axis": null},
           "y": {"field": "v", "type": "quantitative", "scale": {"domain": [0, 2760], "nice": false, "zero": false}, "axis": null},
           "text": {"field": "label"}
         }},
        {"data": {"name": "labels"}, "transform": [{"filter": "datum.panel == 'B' && datum.kind == 'unitV'"}],
         "mark": {"type": "text", "fontSize": 8.5, "angle": 270, "color": "#222", "align": "center", "baseline": "middle"},
         "encoding": {
           "x": {"field": "t", "type": "quantitative", "scale": {"domain": [0, 291], "nice": false, "zero": false}, "axis": null},
           "y": {"field": "v", "type": "quantitative", "scale": {"domain": [0, 2760], "nice": false, "zero": false}, "axis": null},
           "text": {"field": "label"}
         }},
        {"data": {"name": "labels"}, "transform": [{"filter": "datum.panel == 'B' && datum.kind == 'unitT'"}],
         "mark": {"type": "text", "fontSize": 8.5, "color": "#222", "align": "center", "baseline": "middle"},
         "encoding": {
           "x": {"field": "t", "type": "quantitative", "scale": {"domain": [0, 291], "nice": false, "zero": false}, "axis": null},
           "y": {"field": "v", "type": "quantitative", "scale": {"domain": [0, 2760], "nice": false, "zero": false}, "axis": null},
           "text": {"field": "label"}
         }}
      ]
    },
    {
      "width": 312, "height": 300,
      "title": {"text": "C", "dx": -65, "offset": 0, "dy": -1.6},
      "layer": [
        {"data": {"name": "mep"}, "transform": [{"filter": "datum.panel == 'C'"}],
         "mark": {"type": "line", "color": "black", "strokeWidth": 1.6},
         "encoding": {
           "x": {"field": "tp", "type": "quantitative", "scale": {"domain": [-0.5, 4], "nice": false, "zero": false},
                 "axis": {"values": [0, 1, 2, 3, 4], "labelExpr": "['pre','post 1','post 2','post 3','post 4'][datum.value]", "labelFontSize": 14, "tickSize": 5, "labelPadding": 2.5, "title": "Time point", "titleFontSize": 18, "titleX": 174, "titleY": 42.7, "titleBaseline": "alphabetic", "titleAlign": "center"}},
           "y": {"field": "mean", "type": "quantitative", "scale": {"domain": [0, 1.7], "nice": false, "zero": false},
                 "axis": {"values": [0, 0.1, 0.2, 0.3, 0.4, 0.5, 0.6, 0.7, 0.8, 0.9, 1, 1.1, 1.2, 1.3, 1.4, 1.5, 1.6], "labelExpr": "datum.value == 0 ? '0' : (abs(datum.value*2 - round(datum.value*2)) < 0.01 ? format(datum.value, '.1f') : '')", "labelFontSize": 13.5, "labelPadding": 6.5, "tickSize": 5, "title": "MEP amplitude [mV]", "titleFontSize": 21, "titleX": -34, "titleY": 160, "titleBaseline": "bottom", "titleAlign": "center", "titleAngle": 270}},
           "detail": {"field": "series"}
         }},
        {"data": {"name": "gap"},
         "mark": {"type": "rect", "fill": "white"},
         "encoding": {
           "x": {"field": "from", "type": "quantitative", "scale": {"domain": [-0.5, 4], "nice": false, "zero": false},
                 "axis": {"values": [0, 1, 2, 3, 4], "labelExpr": "['pre','post 1','post 2','post 3','post 4'][datum.value]", "labelFontSize": 14, "tickSize": 5, "labelPadding": 2.5, "title": "Time point", "titleFontSize": 18, "titleX": 174, "titleY": 42.7, "titleBaseline": "alphabetic", "titleAlign": "center"}},
           "x2": {"field": "to"},
           "y": {"field": "bottom", "type": "quantitative", "scale": {"domain": [0, 1.7], "nice": false, "zero": false},
                 "axis": {"values": [0, 0.1, 0.2, 0.3, 0.4, 0.5, 0.6, 0.7, 0.8, 0.9, 1, 1.1, 1.2, 1.3, 1.4, 1.5, 1.6], "labelExpr": "datum.value == 0 ? '0' : (abs(datum.value*2 - round(datum.value*2)) < 0.01 ? format(datum.value, '.1f') : '')", "labelFontSize": 13.5, "labelPadding": 6.5, "tickSize": 5, "title": "MEP amplitude [mV]", "titleFontSize": 21, "titleX": -34, "titleY": 160, "titleBaseline": "bottom", "titleAlign": "center", "titleAngle": 270}},
           "y2": {"field": "top"}
         }},
        {"data": {"name": "stim"},
         "mark": {"type": "rect", "fill": "#d4d4d6"},
         "encoding": {
           "x": {"field": "start", "type": "quantitative", "scale": {"domain": [-0.5, 4], "nice": false, "zero": false},
                 "axis": {"values": [0, 1, 2, 3, 4], "labelExpr": "['pre','post 1','post 2','post 3','post 4'][datum.value]", "labelFontSize": 14, "tickSize": 5, "labelPadding": 2.5, "title": "Time point", "titleFontSize": 18, "titleX": 174, "titleY": 42.7, "titleBaseline": "alphabetic", "titleAlign": "center"}},
           "x2": {"field": "end"},
           "y": {"field": "base", "type": "quantitative", "scale": {"domain": [0, 1.7], "nice": false, "zero": false},
                 "axis": {"values": [0, 0.1, 0.2, 0.3, 0.4, 0.5, 0.6, 0.7, 0.8, 0.9, 1, 1.1, 1.2, 1.3, 1.4, 1.5, 1.6], "labelExpr": "datum.value == 0 ? '0' : (abs(datum.value*2 - round(datum.value*2)) < 0.01 ? format(datum.value, '.1f') : '')", "labelFontSize": 13.5, "labelPadding": 6.5, "tickSize": 5, "title": "MEP amplitude [mV]", "titleFontSize": 21, "titleX": -34, "titleY": 160, "titleBaseline": "bottom", "titleAlign": "center", "titleAngle": 270}},
           "y2": {"field": "top"}
         }},
        {"data": {"name": "stim"},
         "mark": {"type": "text", "angle": 270, "fontSize": 14, "color": "#333", "align": "center", "baseline": "middle"},
         "encoding": {
           "x": {"field": "mid", "type": "quantitative", "scale": {"domain": [-0.5, 4], "nice": false, "zero": false},
                 "axis": {"values": [0, 1, 2, 3, 4], "labelExpr": "['pre','post 1','post 2','post 3','post 4'][datum.value]", "labelFontSize": 14, "tickSize": 5, "labelPadding": 2.5, "title": "Time point", "titleFontSize": 18, "titleX": 174, "titleY": 42.7, "titleBaseline": "alphabetic", "titleAlign": "center"}},
           "y": {"field": "labelAt", "type": "quantitative", "scale": {"domain": [0, 1.7], "nice": false, "zero": false},
                 "axis": {"values": [0, 0.1, 0.2, 0.3, 0.4, 0.5, 0.6, 0.7, 0.8, 0.9, 1, 1.1, 1.2, 1.3, 1.4, 1.5, 1.6], "labelExpr": "datum.value == 0 ? '0' : (abs(datum.value*2 - round(datum.value*2)) < 0.01 ? format(datum.value, '.1f') : '')", "labelFontSize": 13.5, "labelPadding": 6.5, "tickSize": 5, "title": "MEP amplitude [mV]", "titleFontSize": 21, "titleX": -34, "titleY": 160, "titleBaseline": "bottom", "titleAlign": "center", "titleAngle": 270}},
           "text": {"field": "label"}
         }},
        {"data": {"name": "mep"}, "transform": [{"filter": "datum.panel == 'C'"}],
         "mark": {"type": "rule", "color": "black", "strokeWidth": 1.8},
         "encoding": {
           "x": {"field": "tp", "type": "quantitative", "scale": {"domain": [-0.5, 4], "nice": false, "zero": false},
                 "axis": {"values": [0, 1, 2, 3, 4], "labelExpr": "['pre','post 1','post 2','post 3','post 4'][datum.value]", "labelFontSize": 14, "tickSize": 5, "labelPadding": 2.5, "title": "Time point", "titleFontSize": 18, "titleX": 174, "titleY": 42.7, "titleBaseline": "alphabetic", "titleAlign": "center"}},
           "y": {"field": "lo", "type": "quantitative", "scale": {"domain": [0, 1.7], "nice": false, "zero": false},
                 "axis": {"values": [0, 0.1, 0.2, 0.3, 0.4, 0.5, 0.6, 0.7, 0.8, 0.9, 1, 1.1, 1.2, 1.3, 1.4, 1.5, 1.6], "labelExpr": "datum.value == 0 ? '0' : (abs(datum.value*2 - round(datum.value*2)) < 0.01 ? format(datum.value, '.1f') : '')", "labelFontSize": 13.5, "labelPadding": 6.5, "tickSize": 5, "title": "MEP amplitude [mV]", "titleFontSize": 21, "titleX": -34, "titleY": 160, "titleBaseline": "bottom", "titleAlign": "center", "titleAngle": 270}},
           "y2": {"field": "hi"}
         }},
        {"data": {"name": "mep"}, "transform": [{"filter": "datum.panel == 'C'"}],
         "mark": {"type": "tick", "orient": "horizontal", "size": 7, "thickness": 1.8, "color": "black"},
         "encoding": {
           "x": {"field": "tp", "type": "quantitative", "scale": {"domain": [-0.5, 4], "nice": false, "zero": false},
                 "axis": {"values": [0, 1, 2, 3, 4], "labelExpr": "['pre','post 1','post 2','post 3','post 4'][datum.value]", "labelFontSize": 14, "tickSize": 5, "labelPadding": 2.5, "title": "Time point", "titleFontSize": 18, "titleX": 174, "titleY": 42.7, "titleBaseline": "alphabetic", "titleAlign": "center"}},
           "y": {"field": "lo", "type": "quantitative", "scale": {"domain": [0, 1.7], "nice": false, "zero": false},
                 "axis": {"values": [0, 0.1, 0.2, 0.3, 0.4, 0.5, 0.6, 0.7, 0.8, 0.9, 1, 1.1, 1.2, 1.3, 1.4, 1.5, 1.6], "labelExpr": "datum.value == 0 ? '0' : (abs(datum.value*2 - round(datum.value*2)) < 0.01 ? format(datum.value, '.1f') : '')", "labelFontSize": 13.5, "labelPadding": 6.5, "tickSize": 5, "title": "MEP amplitude [mV]", "titleFontSize": 21, "titleX": -34, "titleY": 160, "titleBaseline": "bottom", "titleAlign": "center", "titleAngle": 270}}
         }},
        {"data": {"name": "mep"}, "transform": [{"filter": "datum.panel == 'C'"}],
         "mark": {"type": "tick", "orient": "horizontal", "size": 7, "thickness": 1.8, "color": "black"},
         "encoding": {
           "x": {"field": "tp", "type": "quantitative", "scale": {"domain": [-0.5, 4], "nice": false, "zero": false},
                 "axis": {"values": [0, 1, 2, 3, 4], "labelExpr": "['pre','post 1','post 2','post 3','post 4'][datum.value]", "labelFontSize": 14, "tickSize": 5, "labelPadding": 2.5, "title": "Time point", "titleFontSize": 18, "titleX": 174, "titleY": 42.7, "titleBaseline": "alphabetic", "titleAlign": "center"}},
           "y": {"field": "hi", "type": "quantitative", "scale": {"domain": [0, 1.7], "nice": false, "zero": false},
                 "axis": {"values": [0, 0.1, 0.2, 0.3, 0.4, 0.5, 0.6, 0.7, 0.8, 0.9, 1, 1.1, 1.2, 1.3, 1.4, 1.5, 1.6], "labelExpr": "datum.value == 0 ? '0' : (abs(datum.value*2 - round(datum.value*2)) < 0.01 ? format(datum.value, '.1f') : '')", "labelFontSize": 13.5, "labelPadding": 6.5, "tickSize": 5, "title": "MEP amplitude [mV]", "titleFontSize": 21, "titleX": -34, "titleY": 160, "titleBaseline": "bottom", "titleAlign": "center", "titleAngle": 270}}
         }},
        {"data": {"name": "mep"}, "transform": [{"filter": "datum.panel == 'C'"}],
         "mark": {"type": "point", "shape": "circle", "filled": true, "size": 58, "stroke": "black", "strokeWidth": 1.5, "opacity": 1},
         "encoding": {
           "x": {"field": "tp", "type": "quantitative", "scale": {"domain": [-0.5, 4], "nice": false, "zero": false},
                 "axis": {"values": [0, 1, 2, 3, 4], "labelExpr": "['pre','post 1','post 2','post 3','post 4'][datum.value]", "labelFontSize": 14, "tickSize": 5, "labelPadding": 2.5, "title": "Time point", "titleFontSize": 18, "titleX": 174, "titleY": 42.7, "titleBaseline": "alphabetic", "titleAlign": "center"}},
           "y": {"field": "mean", "type": "quantitative", "scale": {"domain": [0, 1.7], "nice": false, "zero": false},
                 "axis": {"values": [0, 0.1, 0.2, 0.3, 0.4, 0.5, 0.6, 0.7, 0.8, 0.9, 1, 1.1, 1.2, 1.3, 1.4, 1.5, 1.6], "labelExpr": "datum.value == 0 ? '0' : (abs(datum.value*2 - round(datum.value*2)) < 0.01 ? format(datum.value, '.1f') : '')", "labelFontSize": 13.5, "labelPadding": 6.5, "tickSize": 5, "title": "MEP amplitude [mV]", "titleFontSize": 21, "titleX": -34, "titleY": 160, "titleBaseline": "bottom", "titleAlign": "center", "titleAngle": 270}},
           "fill": {"field": "series", "type": "nominal", "scale": {"domain": ["qTBS 5/200 PA", "qTBS 5/200 AP"], "range": ["black", "white"]},
                    "legend": {"title": null, "orient": "none", "legendX": 15, "legendY": 12.3, "symbolType": "M -1.286 0 H -0.514 M 0.514 0 H 1.286 M 0.514 0 A 0.514 0.514 0 1 1 -0.514 0 A 0.514 0.514 0 1 1 0.514 0 Z", "symbolSize": 196, "symbolStrokeColor": "black", "symbolStrokeWidth": 2, "labelFontSize": 14.5, "labelColor": "#222", "labelOffset": 5.7, "rowPadding": 0, "padding": 0}}
         }},
        {"data": {"name": "stars"}, "transform": [{"filter": "datum.panel == 'C'"}],
         "mark": {"type": "text", "text": "*", "fontSize": 14, "color": "#555", "align": "center", "baseline": "alphabetic", "dy": 8},
         "encoding": {
           "x": {"field": "tp", "type": "quantitative", "scale": {"domain": [-0.5, 4], "nice": false, "zero": false},
                 "axis": {"values": [0, 1, 2, 3, 4], "labelExpr": "['pre','post 1','post 2','post 3','post 4'][datum.value]", "labelFontSize": 14, "tickSize": 5, "labelPadding": 2.5, "title": "Time point", "titleFontSize": 18, "titleX": 174, "titleY": 42.7, "titleBaseline": "alphabetic", "titleAlign": "center"}},
           "y": {"field": "level", "type": "quantitative", "scale": {"domain": [0, 1.7], "nice": false, "zero": false},
                 "axis": {"values": [0, 0.1, 0.2, 0.3, 0.4, 0.5, 0.6, 0.7, 0.8, 0.9, 1, 1.1, 1.2, 1.3, 1.4, 1.5, 1.6], "labelExpr": "datum.value == 0 ? '0' : (abs(datum.value*2 - round(datum.value*2)) < 0.01 ? format(datum.value, '.1f') : '')", "labelFontSize": 13.5, "labelPadding": 6.5, "tickSize": 5, "title": "MEP amplitude [mV]", "titleFontSize": 21, "titleX": -34, "titleY": 160, "titleBaseline": "bottom", "titleAlign": "center", "titleAngle": 270}}
         }},
        {"data": {"name": "breaks"},
         "mark": {"type": "rule", "color": "black", "strokeWidth": 1.5},
         "encoding": {
           "x": {"field": "x0", "type": "quantitative", "scale": {"domain": [-0.5, 4], "nice": false, "zero": false},
                 "axis": {"values": [0, 1, 2, 3, 4], "labelExpr": "['pre','post 1','post 2','post 3','post 4'][datum.value]", "labelFontSize": 14, "tickSize": 5, "labelPadding": 2.5, "title": "Time point", "titleFontSize": 18, "titleX": 174, "titleY": 42.7, "titleBaseline": "alphabetic", "titleAlign": "center"}},
           "x2": {"field": "x1"},
           "y": {"field": "y0", "type": "quantitative", "scale": {"domain": [0, 1.7], "nice": false, "zero": false},
                 "axis": {"values": [0, 0.1, 0.2, 0.3, 0.4, 0.5, 0.6, 0.7, 0.8, 0.9, 1, 1.1, 1.2, 1.3, 1.4, 1.5, 1.6], "labelExpr": "datum.value == 0 ? '0' : (abs(datum.value*2 - round(datum.value*2)) < 0.01 ? format(datum.value, '.1f') : '')", "labelFontSize": 13.5, "labelPadding": 6.5, "tickSize": 5, "title": "MEP amplitude [mV]", "titleFontSize": 21, "titleX": -34, "titleY": 160, "titleBaseline": "bottom", "titleAlign": "center", "titleAngle": 270}},
           "y2": {"field": "y1"}
         }}
      ]
    },
    {
      "width": 291, "height": 300,
      "title": {"text": "D", "dx": 34, "offset": 0, "dy": 5.5},
      "layer": [
        {"data": {"name": "dashes"}, "transform": [{"filter": "datum.panel == 'D'"}],
         "mark": {"type": "rule", "strokeDash": [14, 11], "strokeWidth": 1.4, "color": "#222"},
         "encoding": {
           "x": {"field": "t0", "type": "quantitative", "scale": {"domain": [0, 291], "nice": false, "zero": false}, "axis": null},
           "x2": {"field": "t1"},
           "y": {"field": "v", "type": "quantitative", "scale": {"domain": [0, 2760], "nice": false, "zero": false}, "axis": null}
         }},
        {"data": {"name": "traces"}, "transform": [{"filter": "datum.panel == 'D'"}],
         "mark": {"type": "line", "color": "#111", "strokeWidth": 1.3, "strokeJoin": "round"},
         "encoding": {
           "x": {"field": "t", "type": "quantitative", "scale": {"domain": [0, 291], "nice": false, "zero": false}, "axis": null},
           "y": {"field": "v", "type": "quantitative", "scale": {"domain": [0, 2760], "nice": false, "zero": false}, "axis": null},
           "detail": {"field": "trace"},
           "order": {"field": "i", "type": "quantitative"}
         }},
        {"data": {"name": "scalebars"}, "transform": [{"filter": "datum.panel == 'D'"}],
         "mark": {"type": "rule", "strokeWidth": 3, "color": "black", "strokeCap": "square"},
         "encoding": {
           "x": {"field": "t0", "type": "quantitative", "scale": {"domain": [0, 291], "nice": false, "zero": false}, "axis": null},
           "x2": {"field": "t1"},
           "y": {"field": "v0", "type": "quantitative", "scale": {"domain": [0, 2760], "nice": false, "zero": false}, "axis": null},
           "y2": {"field": "v1"}
         }},
        {"data": {"name": "labels"}, "transform": [{"filter": "datum.panel == 'D' && datum.kind == 'column'"}],
         "mark": {"type": "text", "fontStyle": "italic", "fontSize": 15, "color": "#222", "align": "center", "baseline": "middle"},
         "encoding": {
           "x": {"field": "t", "type": "quantitative", "scale": {"domain": [0, 291], "nice": false, "zero": false}, "axis": null},
           "y": {"field": "v", "type": "quantitative", "scale": {"domain": [0, 2760], "nice": false, "zero": false}, "axis": null},
           "text": {"field": "label"}
         }},
        {"data": {"name": "labels"}, "transform": [{"filter": "datum.panel == 'D' && datum.kind == 'row'"}],
         "mark": {"type": "text", "fontSize": 24, "color": "#222", "align": "center", "baseline": "middle"},
         "encoding": {
           "x": {"field": "t", "type": "quantitative", "scale": {"domain": [0, 291], "nice": false, "zero": false}, "axis": null},
           "y": {"field": "v", "type": "quantitative", "scale": {"domain": [0, 2760], "nice": false, "zero": false}, "axis": null},
           "text": {"field": "label"}
         }},
        {"data": {"name": "labels"}, "transform": [{"filter": "datum.panel == 'D' && datum.kind == 'unitV'"}],
         "mark": {"type": "text", "fontSize": 8.5, "angle": 270, "color": "#222", "align": "center", "baseline": "middle"},
         "encoding": {
           "x": {"field": "t", "type": "quantitative", "scale": {"domain": [0, 291], "nice": false, "zero": false}, "axis": null},
           "y": {"field": "v", "type": "quantitative", "scale": {"domain": [0, 2760], "nice": false, "zero": false}, "axis": null},
           "text": {"field": "label"}
         }},
        {"data": {"name": "labels"}, "transform": [{"filter": "datum.panel == 'D' && datum.kind == 'unitT'"}],
         "mark": {"type": "text", "fontSize": 8.5, "color": "#222", "align": "center", "baseline": "middle"},
         "encoding": {
           "x": {"field": "t", "type": "quantitative", "scale": {"domain": [0, 291], "nice": false, "zero": false}, "axis": null},
           "y": {"field": "v", "type": "quantitative", "scale": {"domain": [0, 2760], "nice": false, "zero": false}, "axis": null},
           "text": {"field": "label"}
         }}
      ]
    }
  ]
}
